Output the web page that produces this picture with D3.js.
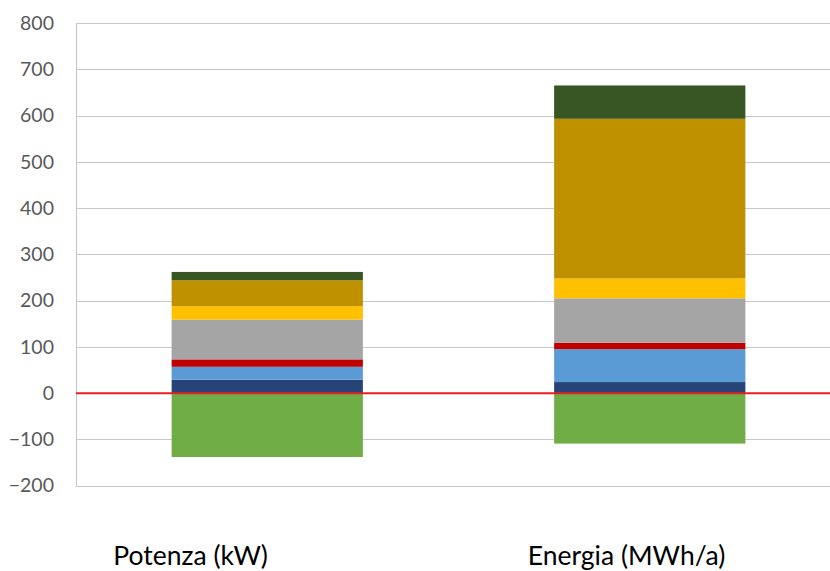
<!DOCTYPE html>
<html>
<head>
<meta charset="utf-8">
<script src="https://d3js.org/d3.v7.min.js"></script>
<style>
  html, body { margin: 0; padding: 0; background: #ffffff; }
  svg { display: block; }
  text { font-family: "Lato", "Open Sans", sans-serif; }
</style>
</head>
<body>
<svg id="chart" width="830" height="571"></svg>
<script>
// Categories on the x axis
const categories = ["Potenza (kW)", "Energia (MWh/a)"];

// Stacked series (bottom to top above zero), values per category
const navyValues = [29, 24];
const lightBlueValues = [28, 71];
const redValues = [16, 14];
const grayValues = [86, 96];
const yellowValues = [29, 43];
const oliveValues = [56, 345];
const darkGreenValues = [18, 72];
// Series below zero
const greenValues = [-138, -109];

const yTicks = [-200, -100, 0, 100, 200, 300, 400, 500, 600, 700, 800];

const positiveSeries = [
  { values: navyValues, color: "#264478" },
  { values: lightBlueValues, color: "#5B9BD5" },
  { values: redValues, color: "#C00000" },
  { values: grayValues, color: "#A5A5A5" },
  { values: yellowValues, color: "#FFC000" },
  { values: oliveValues, color: "#BF9000" },
  { values: darkGreenValues, color: "#375623" }
];
const negativeSeries = [{ values: greenValues, color: "#70AD47" }];

const svg = d3.select("#chart");
const plotLeft = 76, plotRight = 841, plotTop = 23, plotBottom = 485.7;

const x = d3.scaleBand().domain(categories).range([plotLeft, plotRight]).paddingInner(0.5).paddingOuter(0.25);
const y = d3.scaleLinear().domain([-200, 800]).range([plotBottom, plotTop]);

// Gridlines
svg.append("g").selectAll("line").data(yTicks).join("line")
  .attr("x1", plotLeft).attr("x2", 830)
  .attr("y1", d => Math.round(y(d)) + 0.5).attr("y2", d => Math.round(y(d)) + 0.5)
  .attr("stroke", "#C8C8C8").attr("stroke-width", 1.2);

// Left axis line
svg.append("line")
  .attr("x1", plotLeft + 0.5).attr("x2", plotLeft + 0.5)
  .attr("y1", y(800)).attr("y2", y(-200))
  .attr("stroke", "#C8C8C8").attr("stroke-width", 1.2);

// Y axis tick labels
const yAxis = d3.axisLeft(y).tickValues(yTicks).tickSize(0).tickPadding(22);
const gy = svg.append("g").attr("transform", `translate(${plotLeft},0)`).call(yAxis);
gy.select(".domain").remove();
gy.selectAll("text")
  .attr("fill", "#595959")
  .style("font-size", "19.5px")
  .style("font-family", "Lato, 'Open Sans', sans-serif");

// Stacked bars
const barGroup = svg.append("g");
categories.forEach((cat, i) => {
  let base = 0;
  positiveSeries.forEach(s => {
    const v = s.values[i];
    barGroup.append("rect")
      .attr("x", x(cat))
      .attr("width", x.bandwidth())
      .attr("y", y(base + v))
      .attr("height", y(base) - y(base + v))
      .attr("fill", s.color);
    base += v;
  });
  let nbase = 0;
  negativeSeries.forEach(s => {
    const v = s.values[i];
    barGroup.append("rect")
      .attr("x", x(cat))
      .attr("width", x.bandwidth())
      .attr("y", y(nbase))
      .attr("height", y(nbase + v) - y(nbase))
      .attr("fill", s.color);
    nbase += v;
  });
});

// Zero line
svg.append("line")
  .attr("x1", plotLeft).attr("x2", 830)
  .attr("y1", y(0)).attr("y2", y(0))
  .attr("stroke", "#E8201C").attr("stroke-width", 2);

// Category labels
const labelOffsets = [-154, -122];
svg.append("g").selectAll("text").data(categories).join("text")
  .attr("x", (d, i) => x(d) + x.bandwidth() / 2 + labelOffsets[i])
  .attr("y", 565)
  .attr("fill", "#000000")
  .style("font-size", "26.5px")
  .text(d => d);
</script>
</body>
</html>
